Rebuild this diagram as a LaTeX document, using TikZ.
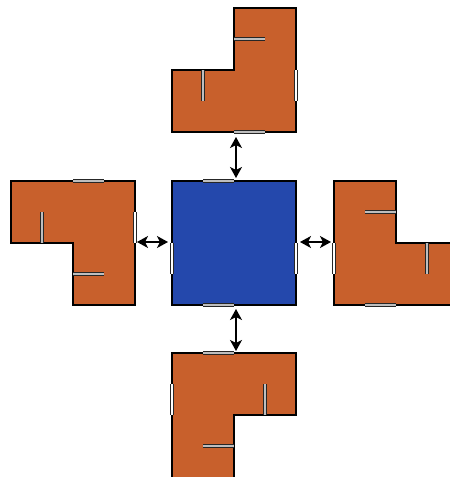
\documentclass[tikz,border=0pt]{standalone}
\usetikzlibrary{arrows.meta}
\definecolor{room}{RGB}{200,96,44}
\definecolor{hub}{RGB}{36,72,172}
\definecolor{doorgray}{RGB}{190,190,190}
\tikzset{
  roomshape/.style={fill=room,draw=black,line width=1.6pt,line join=miter},
  hubshape/.style={fill=hub,draw=black,line width=1.6pt},
  doorline/.style={draw=black!85,line width=3.8pt},
  doorfill/.style={draw=doorgray,line width=1.7pt},
  doorwhite/.style={draw=white,line width=1.8pt},
  link/.style={line width=1.3pt,{Stealth[length=11pt,width=12pt,inset=3pt]}-{Stealth[length=11pt,width=12pt,inset=3pt]}}
}
\newcommand{\doorg}[2]{\draw[doorline] #1 -- #2; \draw[doorfill] #1 -- #2;}
\newcommand{\doorw}[2]{\draw[doorline] #1 -- #2; \draw[doorwhite] #1 -- #2;}
\begin{document}
\begin{tikzpicture}[x=1pt,y=-1pt]
\useasboundingbox (0,0) rectangle (450,477);
\clip (0,0) rectangle (450,477);
% top room
\draw[roomshape] (234,8) -- (296,8) -- (296,132) -- (172,132) -- (172,70) -- (234,70) -- cycle;
% hub
\draw[hubshape] (172,181) rectangle (296,305);
% left room
\draw[roomshape] (11,181) -- (135,181) -- (135,305) -- (73,305) -- (73,243) -- (11,243) -- cycle;
% right room
\draw[roomshape] (334,181) -- (396,181) -- (396,243) -- (460,243) -- (460,305) -- (334,305) -- cycle;
% bottom room
\draw[roomshape] (172,353) -- (296,353) -- (296,415) -- (234,415) -- (234,479) -- (172,479) -- cycle;
% doors top room
\doorg{(234,39)}{(265,39)}
\doorg{(203,70)}{(203,101)}
\doorw{(296,70)}{(296,101)}
\doorg{(234,132)}{(265,132)}
% doors hub
\doorg{(203,181)}{(234,181)}
\doorw{(172,243)}{(172,274)}
\doorw{(296,243)}{(296,274)}
\doorg{(203,305)}{(234,305)}
% doors left room
\doorg{(73,181)}{(104,181)}
\doorg{(42,212)}{(42,243)}
\doorw{(135,212)}{(135,243)}
\doorg{(73,274)}{(104,274)}
% doors right room
\doorg{(365,212)}{(396,212)}
\doorg{(427,243)}{(427,274)}
\doorw{(334,243)}{(334,274)}
\doorg{(365,305)}{(396,305)}
% doors bottom room
\doorg{(203,353)}{(234,353)}
\doorw{(172,384)}{(172,415)}
\doorg{(265,384)}{(265,415)}
\doorg{(203,446)}{(234,446)}
% connectors
\coordinate (topA) at (236,137);
\coordinate (topB) at (236,178);
\coordinate (botA) at (236,309);
\coordinate (botB) at (236,351);
\coordinate (leftA) at (137,242);
\coordinate (leftB) at (168,242);
\coordinate (rightA) at (300,242);
\coordinate (rightB) at (331,242);
\draw[link] (topA) -- (topB);
\draw[link] (botA) -- (botB);
\draw[link] (leftA) -- (leftB);
\draw[link] (rightA) -- (rightB);
\end{tikzpicture}
\end{document}
